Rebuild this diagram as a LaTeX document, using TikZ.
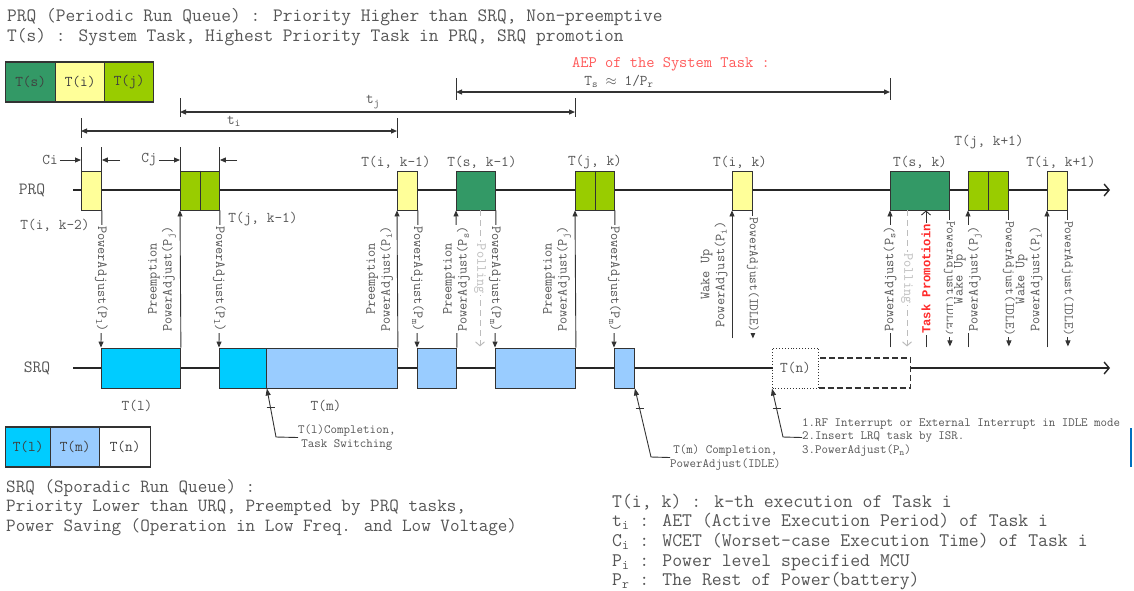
\documentclass[tikz,border=0pt]{standalone}
\usepackage{fontspec}
\newfontfamily\boldmono{Liberation Mono}
\usetikzlibrary{arrows.meta,calc}
\definecolor{cS}{HTML}{339966}
\definecolor{cI}{HTML}{FFFF99}
\definecolor{cJ}{HTML}{99CC00}
\definecolor{cL}{HTML}{00CCFF}
\definecolor{cM}{HTML}{99CCFF}
\definecolor{txg}{HTML}{555555}
\definecolor{lng}{HTML}{333333}
\definecolor{plg}{HTML}{BDBDBD}
\definecolor{aepc}{HTML}{FF5A5A}
\definecolor{prc}{HTML}{FF2A2A}
\definecolor{edgec}{HTML}{0070C0}
\newcommand\myfs[2]{\fontsize{#1}{#2}\selectfont\ttfamily}
\newcommand\sbs[1]{\textsubscript{#1}}
\tikzset{
 box/.style={draw=lng, line width=0.9pt, inner sep=0pt, anchor=west},
 pbox/.style={box, minimum height=39pt},
 sbox/.style={box, minimum height=40pt},
 axis/.style={draw=black!85, line width=1.4pt},
 varr/.style={draw=lng, line width=0.9pt, -{Triangle[length=6pt,width=5pt]}},
 barr/.style={draw=lng, line width=0.9pt, -{Straight Barb[length=4pt,width=9pt]}},
 rl/.style={font=\myfs{13.9}{15}, text=txg, align=center, inner xsep=1.5pt, inner ysep=1pt},
 onl/.style={rl, fill=white},
 idl/.style={onl, font=\myfs{13.1}{15}},
 sidel/.style={rl, anchor=south, inner ysep=4pt},
 lab/.style={font=\myfs{14.9}{16}, text=txg, inner sep=0pt},
 ann/.style={font=\myfs{12.6}{13.5}, text=txg, inner sep=0pt},
 big/.style={font=\myfs{18.9}{20}, text=txg, inner sep=0pt, anchor=base west},
 bot/.style={font=\myfs{18.9}{20}, text=txg, inner sep=0pt, anchor=base west},
 dim/.style={draw=lng, line width=1.2pt, {Triangle[length=6pt,width=5pt]}-{Triangle[length=6pt,width=5pt]}},
 tickl/.style={draw=lng, line width=0.9pt},
 poll/.style={draw=plg, line width=1pt, dash pattern=on 6pt off 4pt, -{Straight Barb[length=4pt,width=9pt]}},
 pollt/.style={font=\myfs{13.9}{15}, text=plg, fill=white, inner xsep=1.5pt, inner ysep=1pt},
 ldr/.style={draw=lng, line width=0.9pt, -{Triangle[length=7pt,width=5pt]}},
 lgd/.style={draw=lng, line width=1.2pt, minimum height=40pt, inner sep=0pt, anchor=west, font=\myfs{14.9}{16}, text=black!75},
}
\begin{document}
\begin{tikzpicture}[x=1pt,y=-1pt]
\useasboundingbox (0,0) rectangle (1134,590);

% header
\node[big] (h1) at (7,21.5) {PRQ (Periodic Run Queue) : Priority Higher than SRQ, Non-preemptive};
\node[big] (h2) at (7,41.5) {T(s) : System Task, Highest Priority Task in PRQ, SRQ promotion};

% legend top
\node[lgd, fill=cS, minimum width=50pt] (ls) at (5,82) {T(s)};
\node[lgd, fill=cI, minimum width=49pt] (li) at (55,82) {T(i)};
\node[lgd, fill=cJ, minimum width=49pt] (lj) at (104,82) {T(j)};

% axes
\coordinate (prqS) at (73,190); \coordinate (prqE) at (1110,190);
\coordinate (srqS) at (73,368); \coordinate (srqE) at (1110,368);
\draw[axis, -{Straight Barb[length=5pt,width=12pt]}] (prqS) -- (prqE);
\draw[axis, -{Straight Barb[length=5pt,width=12pt]}] (srqS) -- (srqE);
\node[font=\myfs{17.1}{18}, text=txg, inner sep=0pt] (prql) at (32,190) {PRQ};
\node[font=\myfs{17.1}{18}, text=txg, inner sep=0pt] (srql) at (37,368) {SRQ};

% PRQ boxes
\node[pbox, fill=cI, minimum width=20pt] (ti2) at (81,190.5) {};
\node[pbox, fill=cJ, minimum width=39pt] (tj1) at (180,190.5) {};
\node[pbox, fill=cI, minimum width=20pt] (ti1) at (397,190.5) {};
\node[pbox, fill=cS, minimum width=39pt] (ts1) at (456,190.5) {};
\node[pbox, fill=cJ, minimum width=39pt] (tj2) at (575,190.5) {};
\node[pbox, fill=cI, minimum width=20pt] (tik) at (732,190.5) {};
\node[pbox, fill=cS, minimum width=59pt] (ts2) at (890,190.5) {};
\node[pbox, fill=cJ, minimum width=40pt] (tj3) at (968,190.5) {};
\node[pbox, fill=cI, minimum width=20pt] (ti3) at (1047,190.5) {};
\draw[tickl] (tj1.north) -- (tj1.south);
\draw[tickl] (tj2.north) -- (tj2.south);
\draw[tickl] (tj3.north) -- (tj3.south);

% PRQ labels
\node[lab] (lti2) at (55,225) {T(i, k-2)};
\node[lab] (ltj1) at (263,219) {T(j, k-1)};
\node[lab] (lti1) at (396,162) {T(i, k-1)};
\node[lab] (lts1) at (482,162) {T(s, k-1)};
\node[lab] (ltj2) at (595,162) {T(j, k)};
\node[lab] (ltik) at (740,162) {T(i, k)};
\node[lab] (lts2) at (920,162) {T(s, k)};
\node[lab] (ltj3) at (989,142) {T(j, k+1)};
\node[lab] (lti3) at (1061,162) {T(i, k+1)};

% Ci, Cj
\draw[tickl] (ti2.north west) -- ++(0,-24);
\draw[tickl] (ti2.north east) -- ++(0,-24);
\draw[tickl] (tj1.north west) -- ++(0,-24);
\draw[tickl] (tj1.north east) -- ++(0,-24);
\node[lab] (ci) at (50,160) {Ci};
\node[lab] (cj) at (149,160) {Cj};
\coordinate (cir) at (120,160);
\coordinate (cjr) at (237,160);
\draw[varr] ([xshift=2pt]ci.east) -- (ci.east -| ti2.west);
\draw[varr] (cir) -- (cir -| ti2.east);
\draw[varr] ([xshift=2pt]cj.east) -- (cj.east -| tj1.west);
\draw[varr] (cjr) -- (cjr -| tj1.east);

% dimension lines
\coordinate (yA) at (0,92); \coordinate (yJ) at (0,112); \coordinate (yI) at (0,131);
\draw[dim] (ts1.west |- yA) -- (ts2.west |- yA);
\draw[tickl] ($(ts1.west |- yA)+(0,-14)$) -- ++(0,22);
\draw[tickl] ($(ts2.west |- yA)+(0,-14)$) -- ++(0,22);
\draw[dim] (tj1.west |- yJ) -- (tj2.west |- yJ);
\draw[tickl] ($(tj1.west |- yJ)+(0,-14)$) -- ++(0,19);
\draw[tickl] ($(tj2.west |- yJ)+(0,-14)$) -- ++(0,19);
\draw[dim] (ti2.west |- yI) -- (ti1.west |- yI);
\draw[tickl] ($(ti2.west |- yI)+(0,-13)$) -- ++(0,20);
\draw[tickl] ($(ti1.west |- yI)+(0,-13)$) -- ++(0,20);
\node[lab, text=aepc, font=\myfs{16}{17}] (aept) at (671,64) {AEP of the System Task :};
\node[lab] (tst) at (619,81) {T\sbs{s} $\approx$ 1/P\sbs{r}};
\node[lab] (tjl) at (373,102) {t\sbs{j}};
\node[lab] (til) at (234,121) {t\sbs{i}};

% SRQ boxes
\node[sbox, fill=cL, minimum width=79pt] (s1) at (101,368) {};
\node[sbox, fill=cL, minimum width=47pt] (s2a) at (219,368) {};
\node[sbox, fill=cM, minimum width=131pt] (s2b) at (266,368) {};
\node[sbox, fill=cM, minimum width=39pt] (s3) at (417,368) {};
\node[sbox, fill=cM, minimum width=80pt] (s4) at (495,368) {};
\node[sbox, fill=cM, minimum width=20pt] (s5) at (614,368) {};
\node[box, dash pattern=on 6pt off 3pt, line width=1.2pt, fill=white, minimum width=92pt, minimum height=30pt] (tnd) at (818,373) {};
\node[box, dotted, line width=1pt, fill=white, minimum width=46pt, minimum height=40pt, font=\myfs{14.9}{16}, text=txg] (tn) at (772,368) {T(n)};
\node[lab] (tll) at (137,406) {T(l)};
\node[lab] (tml) at (326,406) {T(m)};

% vertical connectors
\draw[varr] (ti2.south east) -- node[onl, rotate=-90]{PowerAdjust(P\sbs{l})} (s1.north west);
\draw[varr] (s1.north east) -- node[sidel, rotate=90]{Preemption\\PowerAdjust(P\sbs{j})} (tj1.south west);
\draw[varr] (tj1.south east) -- node[onl, rotate=-90]{PowerAdjust(P\sbs{l})} (s2a.north west);
\draw[varr] (s2b.north east) -- node[sidel, rotate=90]{Preemption\\PowerAdjust(P\sbs{i})} (ti1.south west);
\draw[varr] (ti1.south east) -- node[onl, rotate=-90]{PowerAdjust(P\sbs{m})} (s3.north west);
\draw[varr] (s3.north east) -- node[onl, rotate=90]{Preemption\\PowerAdjust(P\sbs{s})} (ts1.south west);
\coordinate (p1a) at ($(ts1.south west)+(24,0)$);
\coordinate (p1b) at ($(ts1.south west)+(24,136)$);
\draw[poll] (p1a) -- node[pollt, rotate=-90, pos=0.43]{Polling} (p1b);
\draw[varr] (ts1.south east) -- node[onl, rotate=-90]{PowerAdjust(P\sbs{m})} (s4.north west);
\draw[varr] (s4.north east) -- node[sidel, rotate=90]{Preemption\\PowerAdjust(P\sbs{j})} (tj2.south west);
\draw[varr] (tj2.south east) -- node[onl, rotate=-90]{PowerAdjust(P\sbs{m})} (s5.north west);

\coordinate (w1) at ($(tik.south west)+(0,128)$);
\coordinate (i1) at ($(tik.south east)+(0,128)$);
\draw[varr] (w1) -- node[sidel, rotate=90]{Wake Up\\PowerAdjust(P\sbs{i})} (tik.south west);
\draw[varr] (tik.south east) -- node[idl, rotate=-90]{PowerAdjust(IDLE)} (i1);

\coordinate (u13) at ($(ts2.south west)+(0,137)$);
\draw[varr] (u13) -- node[onl, rotate=90]{PowerAdjust(P\sbs{s})} (ts2.south west);
\coordinate (p2a) at ($(ts2.south west)+(17,0)$);
\coordinate (p2b) at ($(ts2.south west)+(17,136)$);
\draw[poll] (p2a) -- node[pollt, rotate=-90, pos=0.5]{Polling} (p2b);
\coordinate (tpa) at ($(ts2.south west)+(36,137)$);
\coordinate (tpb) at ($(ts2.south west)+(36,0)$);
\draw[barr] (tpa) -- node[rotate=90, fill=white, inner xsep=1.5pt, inner ysep=1pt, font=\fontsize{12.2}{14}\selectfont\boldmono\bfseries, text=prc]{Task Promotioin} (tpb);
\coordinate (i2) at ($(ts2.south east)+(0,136)$);
\draw[varr] (ts2.south east) -- node[idl, rotate=-90]{PowerAdjust(IDLE)} (i2);

\coordinate (u17) at ($(tj3.south west)+(0,137)$);
\draw[varr] (u17) -- node[onl, rotate=90]{Wake Up\\PowerAdjust(P\sbs{j})} (tj3.south west);
\coordinate (i3) at ($(tj3.south east)+(0,136)$);
\draw[varr] (tj3.south east) -- node[idl, rotate=-90]{PowerAdjust(IDLE)} (i3);
\coordinate (u19) at ($(ti3.south west)+(0,137)$);
\draw[varr] (u19) -- node[sidel, rotate=90]{Wake Up\\PowerAdjust(P\sbs{i})} (ti3.south west);
\coordinate (i4) at ($(ti3.south east)+(0,136)$);
\draw[varr] (ti3.south east) -- node[idl, rotate=-90]{PowerAdjust(IDLE)} (i4);

% annotations
\coordinate (b1) at (276,437);
\node[ann, align=center, anchor=west] (c1) at (298,437.5) {T(l)Completion,\\Task Switching};
\draw[ldr] (c1.west) -- (b1) -- (s2a.south east);
\draw[tickl] ($(s2a.south east)!0.4!(b1)$) ++(-4,0) -- ++(8,0);

\coordinate (b2) at (651,457);
\node[ann, align=center, anchor=west] (c2) at (670,457.5) {T(m) Completion,\\PowerAdjust(IDLE)};
\draw[ldr] (c2.west) -- (b2) -- (s5.south east);
\draw[tickl] ($(s5.south east)!0.29!(b2)$) ++(-4,0) -- ++(8,0);

\coordinate (b3) at (783,437);
\node[ann, align=left, anchor=west] (c3) at (802,437.5) {1.RF Interrupt or External Interrupt in IDLE mode\\2.Insert LRQ task by ISR.\\3.PowerAdjust(P\sbs{n})};
\draw[ldr] (c3.west) -- (b3) -- (tn.south west);
\draw[tickl] ($(tn.south west)!0.41!(b3)$) ++(-4,0) -- ++(8,0);

\fill[edgec] (1129.5,428) rectangle (1132,467);

% legend bottom
\node[lgd, fill=cL, minimum width=45pt] (ll) at (5,447) {T(l)};
\node[lgd, fill=cM, minimum width=49pt] (lm) at (50,447) {T(m)};
\node[lgd, fill=white, minimum width=51pt] (ln) at (99,447) {T(n)};

% bottom texts
\node[bot, font=\myfs{18.6}{19.5}] (q1) at (6,492.5) {SRQ (Sporadic Run Queue) :};
\node[bot, font=\myfs{18.6}{19.5}] (q2) at (6,511.5) {Priority Lower than URQ, Preempted by PRQ tasks,};
\node[bot, font=\myfs{18.6}{19.5}] (q3) at (6,531.5) {Power Saving (Operation in Low Freq. and Low Voltage)};

\node[bot, font=\myfs{19.2}{19.5}] (r1) at (612,507.5) {T(i, k) : k-th execution of Task i};
\node[bot, font=\myfs{19.2}{19.5}] (r2) at (612,526.5) {t\sbs{i} : AET (Active Execution Period) of Task i};
\node[bot, font=\myfs{19.2}{19.5}] (r3) at (612,546.5) {C\sbs{i} : WCET (Worset-case Execution Time) of Task i};
\node[bot, font=\myfs{19.2}{19.5}] (r4) at (612,566.5) {P\sbs{i} : Power level specified MCU};
\node[bot, font=\myfs{19.2}{19.5}] (r5) at (612,585.5) {P\sbs{r} : The Rest of Power(battery)};
\end{tikzpicture}
\end{document}
